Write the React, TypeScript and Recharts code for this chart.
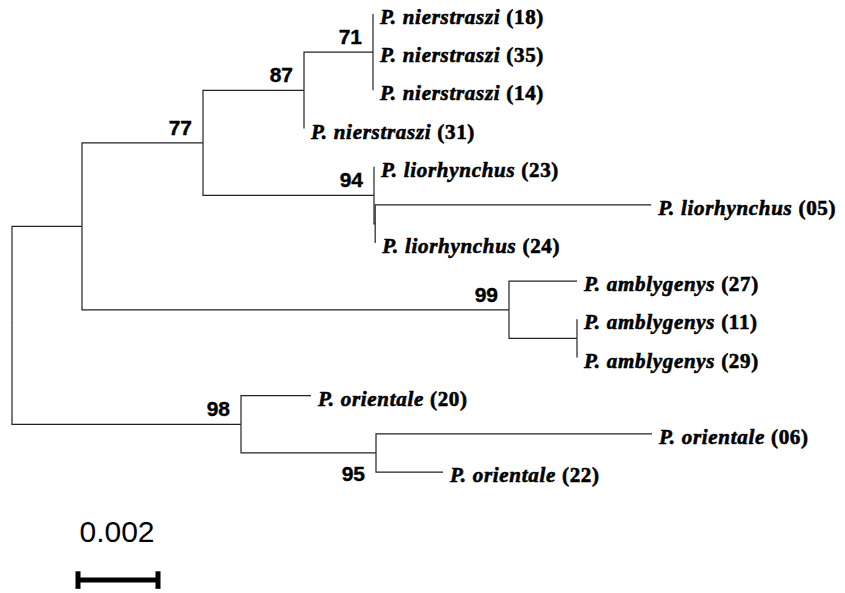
import React from 'react'
import { ComposedChart, XAxis, YAxis, Line, Scatter, ReferenceLine } from 'recharts'

// tree topology, listed parent-first; children keep their drawing order
const nodeIds = ['root', 'A', 'B', 'C', 'D', 'n18', 'n35', 'n14', 'n31', 'E', 'l23', 'F', 'l05', 'l24', 'G', 'l27', 'H', 'a11', 'a29', 'I', 'o20', 'J', 'o06', 'o22']
const parentIds = [null, 'root', 'A', 'B', 'C', 'D', 'D', 'D', 'C', 'B', 'E', 'E', 'F', 'F', 'A', 'G', 'G', 'H', 'H', 'root', 'I', 'I', 'J', 'J']
// branch lengths (substitutions / site)
const branchLengths = [0, 0.00175, 0.003025, 0.002525, 0.001725, 0, 0, 0, 0, 0.004275, 0, 0.00003, 0.0069, 0, 0.010675, 0.0017, 0.0017, 0, 0, 0.005725, 0.00175, 0.003375, 0.0069, 0.001675]

const leafIds = ['n18', 'n35', 'n14', 'n31', 'l23', 'l05', 'l24', 'l27', 'a11', 'a29', 'o20', 'o06', 'o22']
const leafSpecies = ['P. nierstraszi', 'P. nierstraszi', 'P. nierstraszi', 'P. nierstraszi', 'P. liorhynchus', 'P. liorhynchus', 'P. liorhynchus', 'P. amblygenys', 'P. amblygenys', 'P. amblygenys', 'P. orientale', 'P. orientale', 'P. orientale']
const leafSpecimens = ['18', '35', '14', '31', '23', '05', '24', '27', '11', '29', '20', '06', '22']

const supportNodes = ['D', 'C', 'B', 'E', 'G', 'I', 'J']
const supportValues = [71, 87, 77, 94, 99, 98, 95]
const supportBelow = ['J']

const scaleBarLength = 0.002
const scaleBarLabel = '0.002'

type Pos = { x: number; y: number }

function layoutTree() {
  const children: Record<string, string[]> = {}
  nodeIds.forEach((id, i) => {
    const p = parentIds[i]
    if (p) (children[p] = children[p] || []).push(id)
  })
  const pos: Record<string, Pos> = {}
  let row = 0
  const walk = (id: string, depth: number) => {
    const i = nodeIds.indexOf(id)
    const x = depth + branchLengths[i]
    const kids = children[id] || []
    if (kids.length === 0) {
      pos[id] = { x, y: row++ }
      return
    }
    kids.forEach((k) => walk(k, x))
    const ys = kids.map((k) => pos[k].y)
    pos[id] = { x, y: (ys[0] + ys[ys.length - 1]) / 2 }
  }
  walk('root', 0)
  return pos
}

const pos = layoutTree()

const branches = nodeIds
  .map((id, i) => {
    const p = parentIds[i]
    if (!p) return null
    const a = pos[p]
    const b = pos[id]
    return { id, data: [{ x: a.x, y: a.y }, { x: a.x, y: b.y }, { x: b.x, y: b.y }] }
  })
  .filter(Boolean) as { id: string; data: Pos[] }[]

const leafData = leafIds.map((id, i) => ({ ...pos[id], species: leafSpecies[i], specimen: leafSpecimens[i] }))
const supportData = supportNodes.map((id, i) => ({ ...pos[id], value: supportValues[i], below: supportBelow.includes(id) }))

const barX = 0.00165
const barY = 14.83
const scaleData = [{ x: barX + scaleBarLength / 2, y: barY }]

const serif = "'Liberation Serif', 'Times New Roman', Times, serif"
const sans = "'Liberation Sans', Arial, Helvetica, sans-serif"

const LeafLabel = (props: any) => {
  const { cx, cy, payload } = props
  return (
    <text
      x={cx + 7}
      y={cy + 10}
      fill="#000"
      stroke="#000"
      strokeWidth={0.6}
      style={{ fontFamily: serif, fontSize: 21, fontWeight: 700, letterSpacing: 0.7 }}
    >
      <tspan style={{ fontStyle: 'italic' }}>{payload.species}</tspan>
      {' (' + payload.specimen + ')'}
    </text>
  )
}

const SupportLabel = (props: any) => {
  const { cx, cy, payload } = props
  return (
    <text
      x={cx - 11}
      y={payload.below ? cy + 28 : cy - 8}
      textAnchor="end"
      fill="#000"
      stroke="#000"
      strokeWidth={0.4}
      style={{ fontFamily: sans, fontSize: 21, fontWeight: 700 }}
    >
      {payload.value}
    </text>
  )
}

const ScaleLabel = (props: any) => {
  const { cx, cy } = props
  return (
    <text x={cx - 1} y={cy - 38} textAnchor="middle" fill="#000" style={{ fontFamily: sans, fontSize: 30 }}>
      {scaleBarLabel}
    </text>
  )
}

export default function App() {
  return (
    <div style={{ position: 'absolute', left: 0, top: 0, background: '#fff' }}>
      <ComposedChart width={845} height={593} margin={{ top: 0, right: 0, bottom: 0, left: 0 }}>
        <XAxis type="number" dataKey="x" domain={[-0.0003, 0.020825]} hide allowDataOverflow />
        <YAxis type="number" dataKey="y" domain={[-0.367, 15.169]} reversed hide allowDataOverflow />

        {branches.map((b) => (
          <Line
            key={b.id}
            data={b.data}
            dataKey="y"
            type="linear"
            stroke="#222"
            strokeWidth={1.2}
            dot={false}
            activeDot={false}
            isAnimationActive={false}
          />
        ))}

        <Scatter data={leafData} shape={<LeafLabel />} isAnimationActive={false} />
        <Scatter data={supportData} shape={<SupportLabel />} isAnimationActive={false} />

        <ReferenceLine segment={[{ x: barX, y: barY }, { x: barX + scaleBarLength, y: barY }]} stroke="#000" strokeWidth={5} />
        <ReferenceLine segment={[{ x: barX, y: barY - 0.23 }, { x: barX, y: barY + 0.23 }]} stroke="#000" strokeWidth={5} />
        <ReferenceLine segment={[{ x: barX + scaleBarLength, y: barY - 0.23 }, { x: barX + scaleBarLength, y: barY + 0.23 }]} stroke="#000" strokeWidth={5} />
        <Scatter data={scaleData} shape={<ScaleLabel />} isAnimationActive={false} />
      </ComposedChart>
    </div>
  )
}
